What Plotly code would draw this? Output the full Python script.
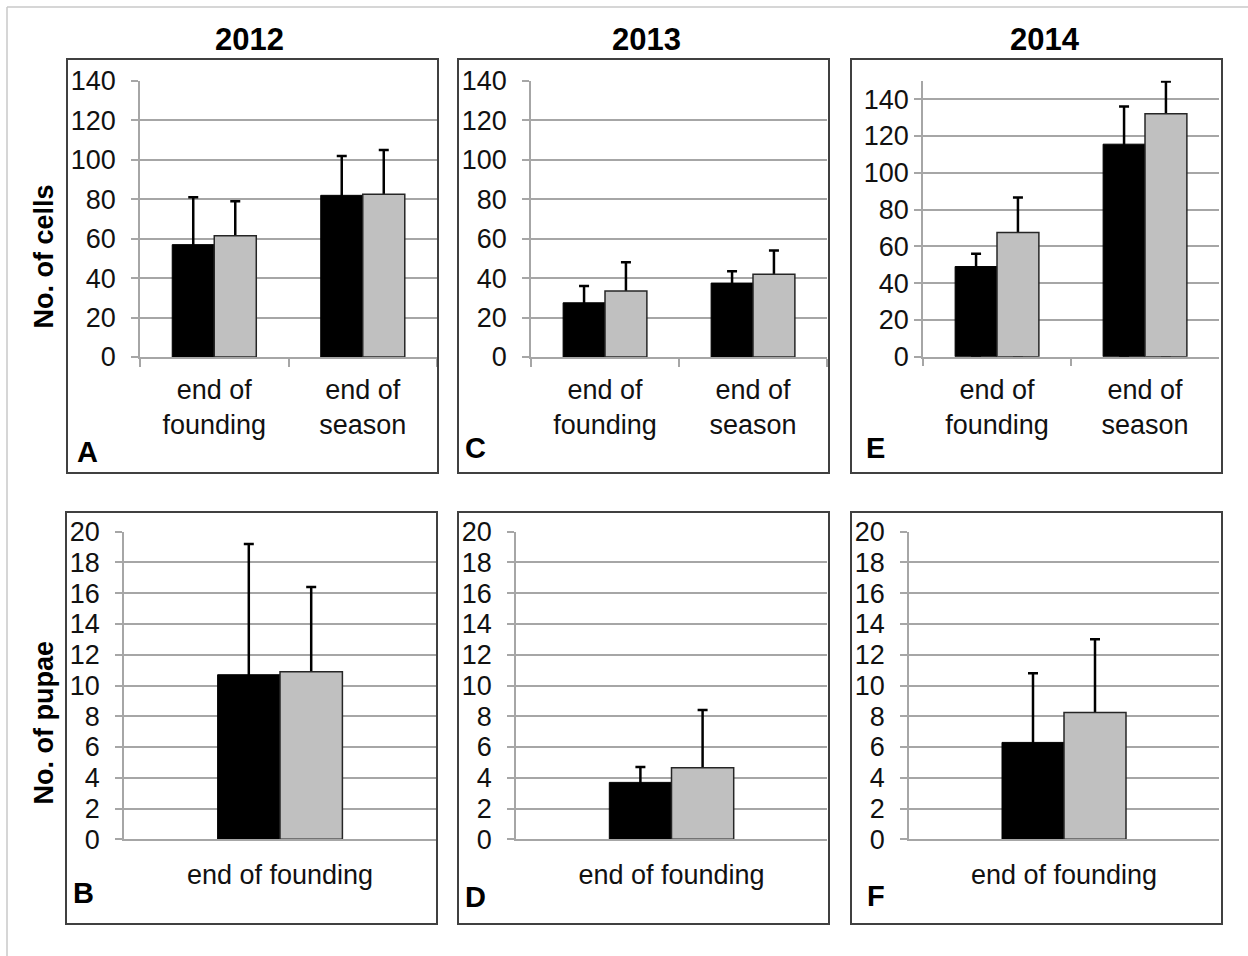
import plotly.graph_objects as go

# ---------------- data ----------------
years = ["2012", "2013", "2014"]
cats_cells = ["end of<br>founding", "end of<br>season"]
cats_pupae = ["end of founding"]

cells_black = {"2012": [57, 82], "2013": [27.5, 37.5], "2014": [49, 115.5]}
cells_black_err = {"2012": [24, 20], "2013": [8.5, 6], "2014": [7, 20.5]}
cells_gray = {"2012": [61.5, 82.5], "2013": [33.5, 42], "2014": [67.5, 132]}
cells_gray_err = {"2012": [17.5, 22.5], "2013": [14.5, 12], "2014": [19, 17.5]}

pupae_black = {"2012": [10.7], "2013": [3.7], "2014": [6.3]}
pupae_black_err = {"2012": [8.5], "2013": [1.0], "2014": [4.5]}
pupae_gray = {"2012": [10.9], "2013": [4.65], "2014": [8.25]}
pupae_gray_err = {"2012": [5.5], "2013": [3.75], "2014": [4.75]}

letters_top = ["A", "C", "E"]
letters_bot = ["B", "D", "F"]

# ---------------- layout constants (pixels) ----------------
W, H = 1248, 956
def px(x):
    return x / W
def py(y):
    return 1 - y / H

FONT = "Liberation Sans, Arial, sans-serif"
GRID = "#a6a6a6"

# plot areas: (x0, x1, ytop, ybottom)
top_areas = [(140, 437, 81, 357), (531, 827, 81, 357), (923, 1219, 80.7, 356.7)]
top_ymax = [140, 140, 150]
top_standoff = [10, 10, 0]
bot_areas = [(124, 436, 531.7, 839.3), (516, 827, 531.7, 839.3), (909, 1219, 531.7, 839.3)]
top_boxes = [(67, 59, 438, 473), (458, 59, 829, 473), (851, 59, 1222, 473)]
bot_boxes = [(66, 512, 437, 924), (458, 512, 829, 924), (851, 512, 1222, 924)]
title_x = [249.5, 646, 1045]
letter_top_pos = [(75, 452), (463, 448), (864, 448)]
letter_bot_pos = [(71, 893), (463, 897), (865, 896)]

fig = go.Figure()
layout = {}
shapes = []
annotations = []
tickfont = dict(family=FONT, size=27, color="#111111")

def add_pair(idx, cats, b, be, g, ge, w, ymax, dtick, standoff):
    ax = "" if idx == 1 else str(idx)
    ov = str(idx + 6)
    # error bars (drawn on the base subplot, running down into the bars so only the upper part shows)
    for vals, errs, off in ((b, be, -w), (g, ge, 0)):
        fig.add_trace(go.Bar(
            x=cats, y=vals, offset=off, width=w, xaxis="x" + ax, yaxis="y" + ax, showlegend=False,
            marker=dict(color="rgba(0,0,0,0)", line=dict(width=0)), hoverinfo="skip",
            error_y=dict(type="data", symmetric=False, array=errs, arrayminus=vals,
                         color="#000000", thickness=2.5, width=5)))
    # visible bars on an overlaying y axis (drawn on top)
    fig.add_trace(go.Bar(
        x=cats, y=b, offset=-w, width=w, xaxis="x" + ax, yaxis="y" + ov, showlegend=False,
        marker=dict(color="#000000", line=dict(color="#000000", width=1))))
    fig.add_trace(go.Bar(
        x=cats, y=g, offset=0, width=w, xaxis="x" + ax, yaxis="y" + ov, showlegend=False,
        marker=dict(color="#c0c0c0", line=dict(color="#262626", width=1.5))))
    layout["yaxis" + ov] = dict(overlaying="y" + ax, anchor="x" + ax, range=[0, ymax],
                                visible=False, fixedrange=True, automargin=False)


for i, yr in enumerate(years):
    # top row (cells)
    idx = i + 1
    add_pair(idx, cats_cells, cells_black[yr], cells_black_err[yr], cells_gray[yr], cells_gray_err[yr],
             0.283, top_ymax[i], 20, top_standoff[i])
    x0, x1, yt, yb = top_areas[i]
    ax = "" if idx == 1 else str(idx)
    layout["xaxis" + ax] = dict(
        domain=[px(x0), px(x1)], anchor="y" + ax, type="category", range=[-0.5, 1.5],
        showline=True, linecolor=GRID, linewidth=1.5, ticks="outside", tickson="boundaries",
        ticklen=8, tickcolor=GRID, tickwidth=1.5, showgrid=False, tickfont=tickfont,
        ticklabelstandoff=8, fixedrange=True, automargin=False)
    layout["yaxis" + ax] = dict(
        domain=[py(yb), py(yt)], anchor="x" + ax, range=[0, top_ymax[i]], tick0=0, dtick=20,
        showline=True, linecolor=GRID, linewidth=1.5, ticks="outside", ticklen=7,
        tickcolor=GRID, tickwidth=1.5, showgrid=True, gridcolor=GRID, gridwidth=1.5,
        zeroline=False, tickfont=tickfont, ticklabelstandoff=top_standoff[i], fixedrange=True,
        automargin=False)

    # bottom row (pupae)
    idx = i + 4
    add_pair(idx, cats_pupae, pupae_black[yr], pupae_black_err[yr], pupae_gray[yr], pupae_gray_err[yr],
             0.2, 20, 2, 10)
    x0, x1, yt, yb = bot_areas[i]
    ax = str(idx)
    layout["xaxis" + ax] = dict(
        domain=[px(x0), px(x1)], anchor="y" + ax, type="category", range=[-0.5, 0.5],
        showline=True, linecolor=GRID, linewidth=1.5, ticks="outside", ticklen=8,
        tickcolor="rgba(0,0,0,0)", showgrid=False, tickfont=tickfont, ticklabelstandoff=3,
        fixedrange=True, automargin=False)
    layout["yaxis" + ax] = dict(
        domain=[py(yb), py(yt)], anchor="x" + ax, range=[0, 20], tick0=0, dtick=2,
        showline=True, linecolor=GRID, linewidth=1.5, ticks="outside", ticklen=7,
        tickcolor=GRID, tickwidth=1.5, showgrid=True, gridcolor=GRID, gridwidth=1.5,
        zeroline=False, tickfont=tickfont, ticklabelstandoff=10, fixedrange=True,
        automargin=False)

    # boxes
    for (bx0, by0, bx1, by1) in (top_boxes[i], bot_boxes[i]):
        shapes.append(dict(type="rect", xref="paper", yref="paper",
                           x0=px(bx0), x1=px(bx1), y0=py(by1), y1=py(by0),
                           line=dict(color="#404040", width=2)))
    # year titles
    annotations.append(dict(text="<b>" + yr + "</b>", x=px(title_x[i]), y=py(39),
                            xref="paper", yref="paper", showarrow=False,
                            xanchor="center", yanchor="middle",
                            font=dict(family=FONT, size=31, color="#000000")))
    # panel letters
    for (lx, ly), letter in ((letter_top_pos[i], letters_top[i]), (letter_bot_pos[i], letters_bot[i])):
        annotations.append(dict(text="<b>" + letter + "</b>", x=px(lx), y=py(ly),
                                xref="paper", yref="paper", showarrow=False,
                                xanchor="left", yanchor="middle",
                                font=dict(family=FONT, size=29, color="#000000")))

# y-axis titles
annotations.append(dict(text="<b>No. of cells</b>", x=px(43), y=py(256.5), xref="paper", yref="paper",
                        showarrow=False, textangle=-90, xanchor="center", yanchor="middle",
                        font=dict(family=FONT, size=27, color="#000000")))
annotations.append(dict(text="<b>No. of pupae</b>", x=px(43), y=py(722.5), xref="paper", yref="paper",
                        showarrow=False, textangle=-90, xanchor="center", yanchor="middle",
                        font=dict(family=FONT, size=27, color="#000000")))

# outer frame (top and left edges)
shapes.append(dict(type="line", xref="paper", yref="paper", x0=px(7), x1=1, y0=py(7), y1=py(7),
                   line=dict(color="#c8c8c8", width=1.5)))
shapes.append(dict(type="line", xref="paper", yref="paper", x0=px(7), x1=px(7), y0=0, y1=py(7),
                   line=dict(color="#c8c8c8", width=1.5)))

fig.update_layout(
    template="none",
    width=W, height=H, margin=dict(l=0, r=0, t=0, b=0, pad=0, autoexpand=False),
    paper_bgcolor="#ffffff", plot_bgcolor="#ffffff",
    barmode="overlay", shapes=shapes, annotations=annotations,
    font=dict(family=FONT), hovermode=False,
    **layout)

post = ("var gd=document.getElementById('{plot_id}');"
        "document.documentElement.style.margin='0';document.documentElement.style.padding='0';"
        "document.body.style.margin='0';document.body.style.padding='0';"
        "document.documentElement.style.overflow='hidden';document.body.style.overflow='hidden';"
        "gd.style.position='absolute';gd.style.left='0px';gd.style.top='0px';")

fig.write_html("out.html", config={"displayModeBar": False}, post_script=post)
